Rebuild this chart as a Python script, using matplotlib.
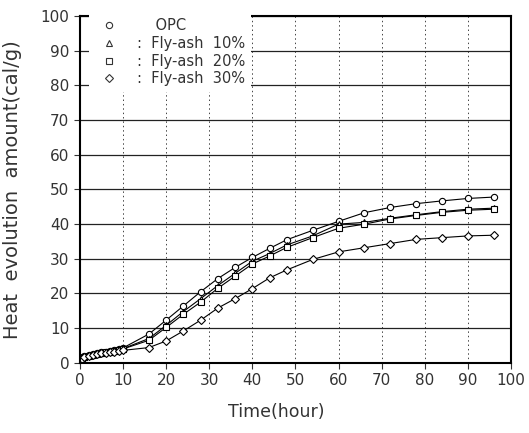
import numpy as np
import matplotlib.pyplot as plt

# tempo (h) e calor liberado (cal/g)
time_h = [0.5, 1, 2, 3, 4, 5, 6, 7, 8, 9, 10, 16, 20, 24, 28, 32, 36, 40, 44,
          48, 54, 60, 66, 72, 78, 84, 90, 96]

opc = [1.3, 1.9, 2.3, 2.6, 2.8, 3.0, 3.2, 3.4, 3.6, 3.9, 4.3, 8.3, 12.3, 16.4,
       20.5, 24.3, 27.5, 30.4, 33.0, 35.5, 38.2, 40.8, 43.3, 44.8, 45.9,
       46.7, 47.4, 47.8]
fly10 = [1.2, 1.8, 2.2, 2.5, 2.7, 2.9, 3.1, 3.3, 3.5, 3.8, 4.1, 7.0, 10.8,
         14.8, 18.5, 22.3, 25.8, 29.3, 31.5, 34.0, 36.6, 40.0, 40.5, 41.7,
         42.7, 43.6, 44.3, 44.6]
fly20 = [1.2, 1.7, 2.1, 2.4, 2.6, 2.8, 3.0, 3.2, 3.4, 3.7, 4.0, 6.5, 10.2,
         14.0, 17.5, 21.5, 25.0, 28.5, 30.8, 33.3, 36.1, 38.8, 40.0, 41.5,
         42.5, 43.4, 44.0, 44.3]
fly30 = [1.1, 1.6, 2.0, 2.3, 2.5, 2.7, 2.9, 3.0, 3.2, 3.4, 3.6, 4.4, 6.3,
         9.2, 12.3, 15.8, 18.5, 21.4, 24.5, 26.8, 29.8, 32.0, 33.2, 34.4,
         35.6, 36.1, 36.6, 36.8]

labels = ['    OPC', ':  Fly-ash  10%', ':  Fly-ash  20%', ':  Fly-ash  30%']
markers = ['o', '^', 's', 'D']

fig = plt.figure(figsize=(5.29, 4.33), dpi=100)
ax = fig.add_axes([0.151, 0.162, 0.815, 0.801])

series = [opc, fly10, fly20, fly30]
handles = []
for y, m in zip(series, markers):
    ms = 4.5 if m != 'D' else 4
    ax.plot(time_h, y, color='black', lw=0.8, marker=m, ms=ms,
            mfc='white', mec='black', mew=0.8)
    h, = ax.plot([], [], ls='none', marker=m, ms=ms, mfc='white',
                 mec='#333333', mew=0.8)
    handles.append(h)

ax.set_xlim(0, 100)
ax.set_ylim(0, 100)
ax.set_xticks(np.arange(0, 101, 10))
ax.set_yticks(np.arange(0, 101, 10))

ax.grid(axis='y', color='#222222', lw=0.9, ls='-')
ax.grid(axis='x', color='#444444', lw=0.7, ls=(0, (1.5, 3)))
ax.set_axisbelow(True)

for s in ax.spines.values():
    s.set_linewidth(1.5)

ax.tick_params(labelsize=11, colors='#333333', length=4, width=0.8)
ax.set_xlabel('Time(hour)', fontsize=12.5, color='#333333')
ax.xaxis.set_label_coords(0.455, -0.115)
ax.set_ylabel('Heat  evolution  amount(cal/g)', fontsize=14,
              color='#333333')
ax.yaxis.set_label_coords(-0.135, 0.5)

leg = ax.legend(handles, labels, loc='upper left', frameon=True,
                fontsize=10.5, handletextpad=0.9, labelspacing=0.18,
                borderaxespad=0.0, bbox_to_anchor=(0.02, 1.01))
leg.get_frame().set_edgecolor('none')
leg.get_frame().set_facecolor('white')
leg.get_frame().set_alpha(1)
for t in leg.get_texts():
    t.set_color('#333333')

fig.savefig('out.png', dpi=100)
